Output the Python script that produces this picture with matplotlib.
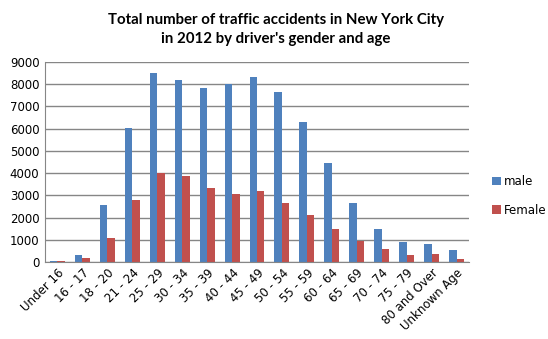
import numpy as np
from matplotlib import pyplot as plt

ages = ["Under 16", "16 - 17", "18 - 20", "21 - 24", "25 - 29", "30 - 34", "35 - 39",
        "40 - 44", "45 - 49", "50 - 54", "55 - 59", "60 - 64", "65 - 69", "70 - 74",
        "75 - 79", "80 and Over", "Unknown Age"]
male = [50, 320, 2570, 6040, 8510, 8200, 7840, 8020, 8330, 7630, 6300, 4460, 2660, 1490, 900, 810, 540]
female = [50, 180, 1080, 2790, 3990, 3870, 3350, 3060, 3200, 2660, 2120, 1490, 950, 585, 320, 360, 140]

fig = plt.figure(figsize=(5.48, 3.39), dpi=100)
ax = fig.add_axes([0.082, 0.227, 0.774, 0.59])

x = np.arange(len(ages))
w = 0.3
ax.bar(x - w / 2, male, w, color="#4F81BD", label="male")
ax.bar(x + w / 2, female, w, color="#C0504D", label="Female")

ax.set_xlim(-0.5, len(ages) - 0.5)
ax.set_ylim(0, 9000)
ax.set_yticks(range(0, 9001, 1000))
ax.yaxis.grid(True, color="#868686", linewidth=1)
ax.set_axisbelow(True)
for s in ["top", "right"]:
    ax.spines[s].set_visible(False)
ax.spines["left"].set_color("#868686")
ax.spines["bottom"].set_color("#868686")
ax.tick_params(axis="y", length=0, labelsize=8.5, pad=4)
ax.tick_params(axis="x", length=0, labelsize=8.5, pad=3)
ax.set_xticks(x)
ax.set_xticklabels(ages, rotation=45, ha="right", rotation_mode="anchor")

fig.suptitle("Total number of traffic accidents in New York City\nin 2012 by driver's gender and age",
             x=0.503, y=0.962, fontsize=10.8, fontweight="bold", family="Lato", linespacing=1.5)

ax.legend(loc="center left", bbox_to_anchor=(1.03, 0.33), frameon=False, fontsize=8.5,
          handlelength=0.7, handleheight=0.7, handletextpad=0.3, labelspacing=1.3)

fig.savefig("out.png", dpi=100)
